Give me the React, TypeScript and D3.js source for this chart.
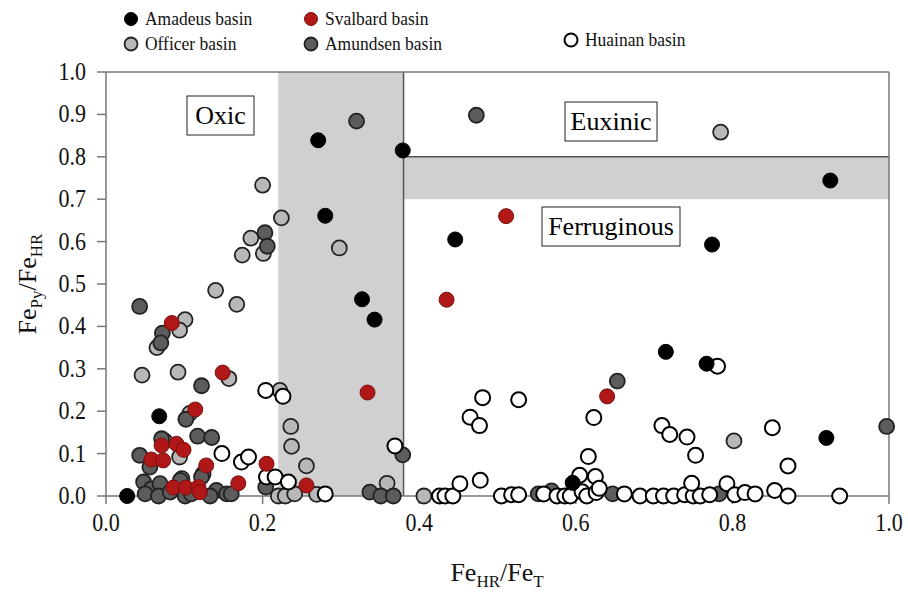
import React from 'react';
import * as d3 from 'd3';

// FeHR/FeT (x) vs FePy/FeHR (y)
const amadeus: [number, number][] = [
  [0.027, 0.0], [0.068, 0.188], [0.271, 0.839], [0.28, 0.661], [0.379, 0.815],
  [0.327, 0.464], [0.343, 0.416], [0.446, 0.605], [0.596, 0.031], [0.715, 0.34],
  [0.767, 0.312], [0.774, 0.593], [0.92, 0.137], [0.925, 0.744],
];

const officer: [number, number][] = [
  [0.785, 0.858], [0.2, 0.733], [0.224, 0.656], [0.185, 0.608], [0.201, 0.572],
  [0.174, 0.568], [0.298, 0.585], [0.14, 0.485], [0.167, 0.452], [0.101, 0.416],
  [0.094, 0.391], [0.065, 0.35], [0.046, 0.285], [0.092, 0.292], [0.157, 0.277],
  [0.222, 0.249], [0.107, 0.195], [0.236, 0.164], [0.237, 0.117], [0.075, 0.13],
  [0.094, 0.092], [0.097, 0.041], [0.124, 0.052], [0.256, 0.071], [0.359, 0.03],
  [0.406, 0.0], [0.22, 0.0], [0.229, 0.0], [0.241, 0.005], [0.269, 0.004],
  [0.802, 0.13],
];

const amundsen: [number, number][] = [
  [0.203, 0.621], [0.206, 0.589], [0.32, 0.884], [0.473, 0.898], [0.043, 0.447],
  [0.072, 0.384], [0.07, 0.361], [0.122, 0.26], [0.102, 0.181], [0.117, 0.141],
  [0.135, 0.138], [0.071, 0.135], [0.043, 0.096], [0.056, 0.068], [0.048, 0.033],
  [0.058, 0.017], [0.05, 0.005], [0.069, 0.029], [0.067, 0.0], [0.082, 0.009],
  [0.095, 0.037], [0.101, 0.0], [0.109, 0.005], [0.122, 0.045], [0.141, 0.013],
  [0.133, 0.0], [0.154, 0.005], [0.16, 0.005], [0.204, 0.021], [0.379, 0.097],
  [0.337, 0.009], [0.351, 0.0], [0.367, 0.0], [0.653, 0.271], [0.552, 0.005],
  [0.569, 0.012], [0.647, 0.005], [0.783, 0.005], [0.997, 0.164],
];

const huainan: [number, number][] = [
  [0.204, 0.249], [0.226, 0.235], [0.148, 0.1], [0.173, 0.08], [0.182, 0.092],
  [0.205, 0.045], [0.216, 0.045], [0.233, 0.033], [0.28, 0.005], [0.369, 0.118],
  [0.426, 0.0], [0.433, 0.0], [0.443, 0.0], [0.452, 0.029], [0.478, 0.037],
  [0.481, 0.232], [0.465, 0.186], [0.477, 0.166], [0.527, 0.227], [0.623, 0.185],
  [0.616, 0.093], [0.605, 0.049], [0.625, 0.046], [0.505, 0.0], [0.518, 0.003],
  [0.527, 0.003], [0.559, 0.005], [0.576, 0.0], [0.586, 0.0], [0.593, 0.0],
  [0.608, 0.01], [0.614, 0.0], [0.626, 0.008], [0.63, 0.018], [0.662, 0.005],
  [0.682, 0.0], [0.699, 0.0], [0.712, 0.0], [0.725, 0.0], [0.739, 0.003],
  [0.75, 0.0], [0.759, 0.0], [0.771, 0.003], [0.71, 0.166], [0.72, 0.145],
  [0.742, 0.139], [0.781, 0.306], [0.851, 0.161], [0.753, 0.096], [0.871, 0.071],
  [0.748, 0.03], [0.793, 0.029], [0.803, 0.003], [0.816, 0.008], [0.829, 0.005],
  [0.854, 0.013], [0.871, 0.0], [0.937, 0.0],
];

const svalbard: [number, number][] = [
  [0.511, 0.66], [0.435, 0.463], [0.334, 0.244], [0.64, 0.235], [0.256, 0.025],
  [0.084, 0.408], [0.149, 0.291], [0.114, 0.204], [0.071, 0.119], [0.09, 0.123],
  [0.099, 0.109], [0.058, 0.086], [0.073, 0.084], [0.128, 0.072], [0.205, 0.076],
  [0.169, 0.03], [0.086, 0.02], [0.102, 0.02], [0.118, 0.021], [0.12, 0.009],
];

const xTicks = [0, 0.2, 0.4, 0.6, 0.8, 1.0];
const yTicks = [0, 0.1, 0.2, 0.3, 0.4, 0.5, 0.6, 0.7, 0.8, 0.9, 1.0];

// draw order matters a bit for the overlaps
const series = [
  { name: 'Officer basin', data: officer, fill: '#b8b8b8', stroke: '#222', sw: 1.8 },
  { name: 'Amundsen basin', data: amundsen, fill: '#5c5c5c', stroke: '#222', sw: 1.8 },
  { name: 'Huainan basin', data: huainan, fill: '#ffffff', stroke: '#000000', sw: 2 },
  { name: 'Svalbard basin', data: svalbard, fill: '#b01818', stroke: '#7a1010', sw: 1 },
  { name: 'Amadeus basin', data: amadeus, fill: '#000000', stroke: '#000000', sw: 1 },
];

const legendItems = [
  { name: 'Amadeus basin', x: 131, y: 19 },
  { name: 'Svalbard basin', x: 311, y: 19 },
  { name: 'Officer basin', x: 131, y: 44 },
  { name: 'Amundsen basin', x: 311, y: 44 },
  { name: 'Huainan basin', x: 571, y: 40 },
];

const font = '"Liberation Serif", "Times New Roman", serif';

export default function App() {
  const width = 908;
  const height = 596;
  const margin = { left: 106, right: 19, top: 72, bottom: 100 };
  const w = width - margin.left - margin.right;
  const h = height - margin.top - margin.bottom;

  const x = d3.scaleLinear().domain([0, 1]).range([0, w]);
  const y = d3.scaleLinear().domain([0, 1]).range([h, 0]);
  const r = 7.5;
  const fmt = d3.format('.1f');

  const styleOf = (name: string) => series.find((s) => s.name === name)!;

  return (
    <svg width={width} height={height} style={{ position: 'absolute', left: 0, top: 0, background: '#fff' }}
      fontFamily={font}>
      {/* Legend */}
      {legendItems.map((d) => {
        const s = styleOf(d.name);
        return (
          <g key={d.name}>
            <circle cx={d.x} cy={d.y} r={6.5} fill={s.fill} stroke={s.stroke} strokeWidth={s.sw} />
            <text transform={`translate(${d.x + 14},${d.y + 6}) scale(0.92,1)`} fontSize={19} fill="#111">{d.name}</text>
          </g>
        );
      })}

      <g transform={`translate(${margin.left},${margin.top})`}>
        {/* shaded transition zones */}
        <rect x={x(0.22)} y={y(1)} width={x(0.38) - x(0.22)} height={h} fill="#d0d0d0" />
        <rect x={x(0.38)} y={y(0.8)} width={x(1) - x(0.38)} height={y(0.7) - y(0.8)} fill="#d0d0d0" />
        <line x1={x(0.38)} x2={x(0.38)} y1={y(0)} y2={y(1)} stroke="#555" strokeWidth={1.5} />
        <line x1={x(0.38)} x2={x(1)} y1={y(0.8)} y2={y(0.8)} stroke="#555" strokeWidth={1.5} />

        {/* frame */}
        <line x1={0} x2={w} y1={0} y2={0} stroke="#777" strokeWidth={1.5} />
        <line x1={w} x2={w} y1={0} y2={h} stroke="#777" strokeWidth={1.5} />
        <line x1={0} x2={0} y1={0} y2={h} stroke="#777" strokeWidth={1.5} />
        <line x1={0} x2={w} y1={h} y2={h} stroke="#777" strokeWidth={1.5} />

        {/* region labels */}
        <g>
          <rect x={81} y={24} width={67} height={39} fill="#fff" stroke="#222" strokeWidth={1} />
          <text x={114.5} y={52} textAnchor="middle" fontSize={26}>Oxic</text>
          <rect x={459} y={30} width={92} height={39} fill="#fff" stroke="#222" strokeWidth={1} />
          <text x={505} y={58} textAnchor="middle" fontSize={26}>Euxinic</text>
          <rect x={436} y={135} width={138} height={39} fill="#fff" stroke="#222" strokeWidth={1} />
          <text x={505} y={163} textAnchor="middle" fontSize={26}>Ferruginous</text>
        </g>

        {/* y axis ticks */}
        {yTicks.map((t) => (
          <g key={'y' + t} transform={`translate(0,${y(t)})`}>
            <line x1={-9} x2={0} stroke="#777" strokeWidth={1.5} />
            <text transform="translate(-20,8) scale(0.88,1)" textAnchor="end" fontSize={25} fill="#111">{fmt(t)}</text>
          </g>
        ))}

        {/* x axis ticks */}
        {xTicks.map((t) => (
          <g key={'x' + t} transform={`translate(${x(t)},${h})`}>
            <line y1={0} y2={8} stroke="#777" strokeWidth={1.5} />
            <text transform="translate(0,35) scale(0.88,1)" textAnchor="middle" fontSize={25} fill="#111">{fmt(t)}</text>
          </g>
        ))}

        {/* points */}
        {series.map((s) => (
          <g key={s.name}>
            {s.data.map((d, i) => (
              <circle key={i} cx={x(d[0])} cy={y(d[1])} r={r} fill={s.fill} stroke={s.stroke} strokeWidth={s.sw} />
            ))}
          </g>
        ))}
      </g>

      {/* axis titles */}
      <text x={497} y={581} textAnchor="middle" fontSize={26} fill="#111">
        Fe<tspan fontSize={17} dy={6}>HR</tspan><tspan dy={-6}>/Fe</tspan><tspan fontSize={17} dy={6}>T</tspan>
      </text>
      <text transform="translate(36,284) rotate(-90)" textAnchor="middle" fontSize={26} fill="#111">
        Fe<tspan fontSize={17} dy={6}>Py</tspan><tspan dy={-6}>/Fe</tspan><tspan fontSize={17} dy={6}>HR</tspan>
      </text>
    </svg>
  );
}
